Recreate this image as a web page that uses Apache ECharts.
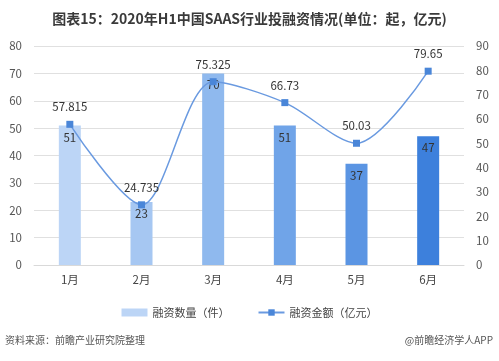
<!DOCTYPE html>
<html><head><meta charset="utf-8">
<script src="https://cdn.jsdelivr.net/npm/echarts@6/dist/echarts.min.js"></script>
<style>html,body{margin:0;padding:0;background:#fff}#c{width:499px;height:361px}</style>
</head><body><div id="c"></div>
<script>
const categories = ['1月','2月','3月','4月','5月','6月'];
const dealCount = [51, 23, 70, 51, 37, 47];
const dealAmount = [57.815, 24.735, 75.325, 66.73, 50.03, 79.65];
const barColors = ['#bcd5f6','#a6c7f2','#8fb9ee','#70a4e8','#5b95e3','#3d80dc'];
const leftTicks = {min:0, max:80, interval:10};
const rightTicks = {min:0, max:90, interval:10};
const seriesNames = ['融资数量（件）','融资金额（亿元）'];

const chart = echarts.init(document.getElementById('c'));
const font = '"Microsoft YaHei","Noto Sans CJK SC",sans-serif';
chart.setOption({
  animation:false,
  textStyle:{fontFamily:font},
  title:{text:'图表15：2020年H1中国SAAS行业投融资情况(单位：起，亿元)',left:'center',top:7,
    textStyle:{fontSize:14,fontWeight:'bold',color:'#3a3a3a',fontFamily:font}},
  legend:{top:302,left:'center',itemGap:28,itemWidth:26,itemHeight:8,
    textStyle:{fontSize:11,color:'#444'},
    data:[{name:seriesNames[0],icon:'rect',itemStyle:{color:'#bcd5f6'}},{name:seriesNames[1]}]},
  grid:{left:34,right:35,top:46,bottom:96},
  xAxis:{type:'category',data:categories,axisTick:{show:false},
    axisLine:{lineStyle:{color:'#d9d9d9'}},axisLabel:{color:'#444',fontSize:11.5,margin:9}},
  yAxis:[
    {type:'value',min:leftTicks.min,max:leftTicks.max,interval:leftTicks.interval,
      axisLabel:{color:'#555',fontSize:11.5,margin:12},splitLine:{lineStyle:{color:'#e0e0e0'}},
      axisLine:{show:false},axisTick:{show:false}},
    {type:'value',min:rightTicks.min,max:rightTicks.max,interval:rightTicks.interval,
      axisLabel:{color:'#555',fontSize:11.5,margin:12},splitLine:{show:false},
      axisLine:{show:false},axisTick:{show:false}}
  ],
  series:[
    {name:seriesNames[0],type:'bar',barWidth:22,yAxisIndex:0,
      data:dealCount.map((v,i)=>({value:v,itemStyle:{color:barColors[i]}})),
      label:{show:true,position:'insideTop',color:'#333',fontSize:11.5,distance:6}},
    {name:seriesNames[1],type:'line',yAxisIndex:1,smooth:0.3,data:dealAmount,
      symbol:'rect',symbolSize:7,
      lineStyle:{color:'#6a9ae0',width:1.5},itemStyle:{color:'#4a86d8'},
      label:{show:true,position:'top',color:'#333',fontSize:11.5,distance:8}}
  ],
  graphic:[
    {type:'text',left:5,top:335,style:{text:'资料来源：前瞻产业研究院整理',fill:'#555',font:'10px '+font}},
    {type:'text',right:6,top:335,style:{text:'@前瞻经济学人APP',fill:'#555',font:'10px '+font}}
  ]
});
</script></body></html>
